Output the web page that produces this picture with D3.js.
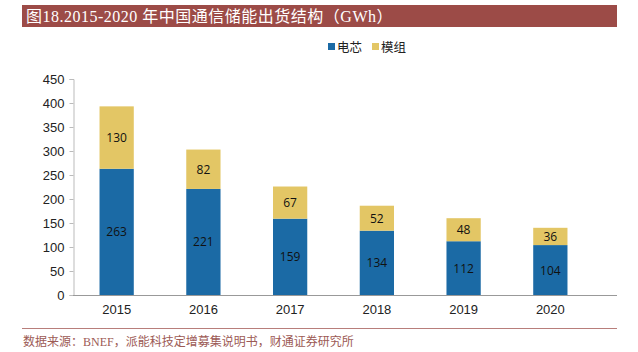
<!DOCTYPE html>
<html><head><meta charset="utf-8">
<script src="https://cdn.jsdelivr.net/npm/d3@7"></script>
<style>body{margin:0;background:#fff}svg{display:block}</style>
</head><body>
<svg id="c" width="638" height="352"></svg>
<script>
const years = ["2015","2016","2017","2018","2019","2020"];
const cells = [263,221,159,134,112,104];
const modules = [130,82,67,52,48,36];
const seriesNames = ["电芯","模组"];
const yTicks = [0,50,100,150,200,250,300,350,400,450];
const colors = ["#1B6AA5","#E3C665"];

const svg = d3.select("#c");
// title bar
svg.append("rect").attr("x",22).attr("y",5).attr("width",595).attr("height",22).attr("fill","#9C4B47");
svg.append("text").attr("x",26).attr("y",21.5).attr("fill","#fff")
  .attr("font-family","'Liberation Serif','Noto Sans CJK SC',serif").attr("font-size",16)
  .attr("letter-spacing",0.5)
  .text("图18.2015-2020 年中国通信储能出货结构（GWh）");

const x = d3.scaleBand().domain(years).range([73.5,593.5]).paddingInner(0.605).paddingOuter(0.3);
const y = d3.scaleLinear().domain([0,450]).range([295,79]);

const data = years.map((yr,i)=>({yr, v:[cells[i],modules[i]]}));
const g = svg.append("g");
data.forEach(d=>{
  let base=0;
  d.v.forEach((v,k)=>{
    g.append("rect").attr("x",x(d.yr)).attr("width",x.bandwidth())
      .attr("y",y(base+v)).attr("height",y(base)-y(base+v)).attr("fill",colors[k]);
    g.append("text").attr("x",x(d.yr)+x.bandwidth()/2).attr("y",(y(base)+y(base+v))/2+4.5)
      .attr("text-anchor","middle").attr("font-family","'Open Sans','Liberation Sans',sans-serif")
      .attr("font-size",12).attr("fill","#111").text(v);
    base+=v;
  });
});

// y axis
const ya = svg.append("g").attr("transform","translate(73.5,0)")
  .call(d3.axisLeft(y).tickValues(yTicks).tickSize(4).tickPadding(5));
ya.select(".domain").attr("stroke","#bbb");
ya.selectAll(".tick line").attr("stroke","#bbb");
ya.selectAll(".tick text").attr("font-family","'Liberation Sans',Arial,sans-serif").attr("font-size",13).attr("fill","#222");

// x axis
const xa = svg.append("g").attr("transform","translate(0,295.5)")
  .call(d3.axisBottom(x).tickSize(0).tickPadding(9));
xa.select(".domain").remove();
svg.append("line").attr("x1",73).attr("x2",617).attr("y1",295.5).attr("y2",295.5).attr("stroke","#999");
xa.selectAll(".tick text").attr("font-family","'Liberation Sans',Arial,sans-serif").attr("font-size",13).attr("fill","#222");

// legend
const lg = svg.append("g").attr("font-family","'Noto Sans CJK SC',sans-serif").attr("font-size",12.5).attr("fill","#222");
const lx=[328,372];
seriesNames.forEach((n,k)=>{
  lg.append("rect").attr("x",lx[k]).attr("y",43).attr("width",7).attr("height",7).attr("fill",colors[k]);
  lg.append("text").attr("x",lx[k]+9).attr("y",51.5).text(n);
});

// footer
svg.append("line").attr("x1",22).attr("x2",617).attr("y1",328.5).attr("y2",328.5).attr("stroke","#B87E7B").attr("stroke-width",1.2);
svg.append("text").attr("x",23).attr("y",346).attr("fill","#9C5A55")
  .attr("font-family","'Liberation Serif','Noto Sans CJK SC',serif").attr("font-size",12)
  .text("数据来源：BNEF，派能科技定增募集说明书，财通证券研究所");
</script>
</body></html>
